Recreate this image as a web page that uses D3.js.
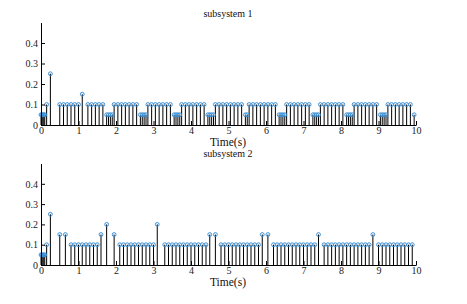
<!DOCTYPE html>
<html><head><meta charset="utf-8">
<script src="https://cdn.jsdelivr.net/npm/d3@7"></script>
<style>body{margin:0;background:#fff}svg{display:block}</style>
</head><body>
<svg id="c" width="467" height="304"></svg>
<script>
const xTicks = [0,1,2,3,4,5,6,7,8,9,10];
const yTicks = [0,0.1,0.2,0.3,0.4];
const titles = ["subsystem 1","subsystem 2"];
const xLabel = "Time(s)";

const t1 = [0,0.025,0.05,0.075,0.1,0.15,0.25,
  0.5,0.6,0.7,0.8,0.9,1.0,1.1,
  1.25,1.35,1.45,1.55,1.65,
  1.75,1.8,1.85,1.9,
  1.95,2.05,2.15,2.25,2.35,2.45,2.55,
  2.65,2.7,2.75,2.8,
  2.85,2.95,3.05,3.15,3.25,3.35,3.45,
  3.55,3.6,3.65,3.7,
  3.75,3.85,3.95,4.05,4.15,4.25,4.35,
  4.45,4.5,4.55,4.6,
  4.65,4.75,4.85,4.95,5.05,5.15,5.25,5.35,
  5.45,5.5,
  5.55,5.65,5.75,5.85,5.95,6.05,6.15,6.25,
  6.35,6.4,6.45,6.5,
  6.55,6.65,6.75,6.85,6.95,7.05,7.15,
  7.25,7.3,7.35,7.4,
  7.45,7.55,7.65,7.75,7.85,7.95,8.05,
  8.15,8.2,8.25,8.3,
  8.35,8.45,8.55,8.65,8.75,8.85,8.95,
  9.05,9.1,9.15,9.2,
  9.25,9.35,9.45,9.55,9.65,9.75,9.85,
  9.95];
const v1 = [0.05,0.05,0.05,0.05,0.05,0.1,0.25,
  0.1,0.1,0.1,0.1,0.1,0.1,0.15,
  0.1,0.1,0.1,0.1,0.1,
  0.05,0.05,0.05,0.05,
  0.1,0.1,0.1,0.1,0.1,0.1,0.1,
  0.05,0.05,0.05,0.05,
  0.1,0.1,0.1,0.1,0.1,0.1,0.1,
  0.05,0.05,0.05,0.05,
  0.1,0.1,0.1,0.1,0.1,0.1,0.1,
  0.05,0.05,0.05,0.05,
  0.1,0.1,0.1,0.1,0.1,0.1,0.1,0.1,
  0.05,0.05,
  0.1,0.1,0.1,0.1,0.1,0.1,0.1,0.1,
  0.05,0.05,0.05,0.05,
  0.1,0.1,0.1,0.1,0.1,0.1,0.1,
  0.05,0.05,0.05,0.05,
  0.1,0.1,0.1,0.1,0.1,0.1,0.1,
  0.05,0.05,0.05,0.05,
  0.1,0.1,0.1,0.1,0.1,0.1,0.1,
  0.05,0.05,0.05,0.05,
  0.1,0.1,0.1,0.1,0.1,0.1,0.1,
  0.05];

const t2 = [0,0.025,0.05,0.075,0.1,0.15,0.25,
  0.5,0.65,
  0.8,0.9,1.0,1.1,1.2,1.3,1.4,1.5,
  1.6,1.75,1.95,
  2.1,2.2,2.3,2.4,2.5,2.6,2.7,2.8,2.9,3.0,
  3.1,
  3.3,3.4,3.5,3.6,3.7,3.8,3.9,4.0,4.1,4.2,4.3,4.4,
  4.5,4.65,
  4.8,4.9,5.0,5.1,5.2,5.3,5.4,5.5,5.6,5.7,5.8,
  5.9,6.05,
  6.2,6.3,6.4,6.5,6.6,6.7,6.8,6.9,7.0,7.1,7.2,7.3,
  7.4,
  7.55,7.65,7.75,7.85,7.95,8.05,8.15,8.25,8.35,8.45,8.55,8.65,8.75,
  8.85,
  9.0,9.1,9.2,9.3,9.4,9.5,9.6,9.7,9.8,9.9];
const v2 = [0.05,0.05,0.05,0.05,0.05,0.1,0.25,
  0.15,0.15,
  0.1,0.1,0.1,0.1,0.1,0.1,0.1,0.1,
  0.15,0.2,0.15,
  0.1,0.1,0.1,0.1,0.1,0.1,0.1,0.1,0.1,0.1,
  0.2,
  0.1,0.1,0.1,0.1,0.1,0.1,0.1,0.1,0.1,0.1,0.1,0.1,
  0.15,0.15,
  0.1,0.1,0.1,0.1,0.1,0.1,0.1,0.1,0.1,0.1,0.1,
  0.15,0.15,
  0.1,0.1,0.1,0.1,0.1,0.1,0.1,0.1,0.1,0.1,0.1,0.1,
  0.15,
  0.1,0.1,0.1,0.1,0.1,0.1,0.1,0.1,0.1,0.1,0.1,0.1,0.1,
  0.15,
  0.1,0.1,0.1,0.1,0.1,0.1,0.1,0.1,0.1,0.1];

const svg = d3.select("#c");
const font = "'Liberation Serif','Times New Roman',serif";
const panels = [
  {t:t1, v:v1, top:22.5, bottom:125, title:titles[0], titleY:17, labelY:146},
  {t:t2, v:v2, top:163.5, bottom:265, title:titles[1], titleY:157, labelY:286}
];
const x = d3.scaleLinear().domain([0,10]).range([41,416]);

panels.forEach(p => {
  const y = d3.scaleLinear().domain([0,0.5]).range([p.bottom,p.top]);
  const g = svg.append("g");
  const data = p.t.map((d,i)=>({t:d,v:p.v[i]}));
  g.selectAll("line.stem").data(data).enter().append("line")
    .attr("x1",d=>x(d.t)).attr("x2",d=>x(d.t))
    .attr("y1",y(0)).attr("y2",d=>y(d.v))
    .attr("stroke","#000").attr("stroke-width",1);
  g.selectAll("circle").data(data).enter().append("circle")
    .attr("cx",d=>x(d.t)).attr("cy",d=>y(d.v)).attr("r",1.9)
    .attr("fill","none").attr("stroke","#3a8fd6").attr("stroke-width",1);
  const xa = d3.axisBottom(x).tickValues(xTicks).tickSizeInner(-4).tickSizeOuter(0).tickPadding(2).tickFormat(d3.format("d"));
  const ya = d3.axisLeft(y).tickValues(yTicks).tickSizeInner(-4).tickSizeOuter(0).tickPadding(3).tickFormat(d=>d===0?"0":d3.format(".1f")(d));
  const gx = g.append("g").attr("transform",`translate(0,${p.bottom})`).call(xa);
  const gy = g.append("g").attr("transform",`translate(41,0)`).call(ya);
  [gx,gy].forEach(a=>{
    a.select(".domain").attr("stroke","#000");
    a.selectAll(".tick line").attr("stroke","#000");
    a.selectAll("text").attr("font-family",font).attr("font-size",10).attr("fill","#222");
  });
  svg.append("text").attr("x",228).attr("y",p.titleY).attr("text-anchor","middle")
    .attr("font-family",font).attr("font-size",10).attr("fill","#111").text(p.title);
  svg.append("text").attr("x",228).attr("y",p.labelY).attr("text-anchor","middle")
    .attr("font-family",font).attr("font-size",11.5).attr("fill","#111").text(xLabel);
});
</script>
</body></html>
